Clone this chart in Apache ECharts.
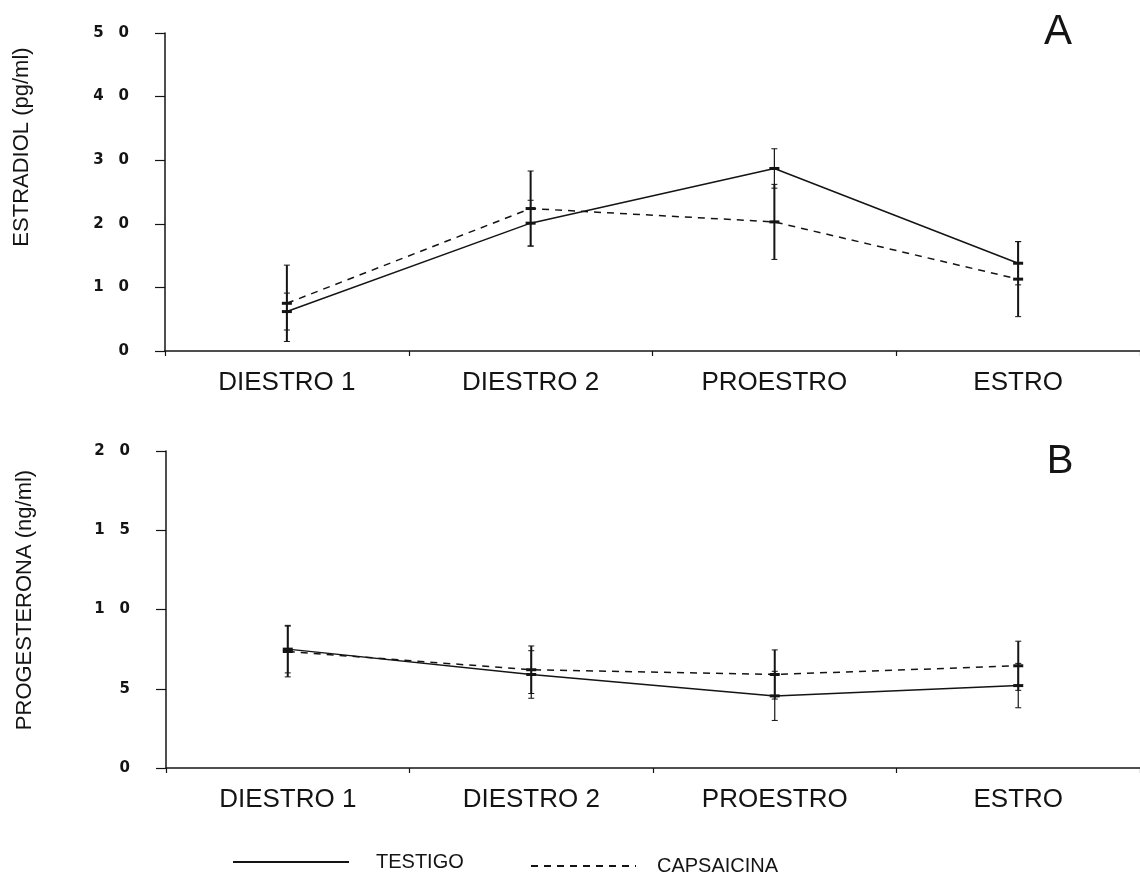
<!DOCTYPE html>
<html>
<head>
<meta charset="utf-8">
<style>
  html, body { margin: 0; padding: 0; background: #ffffff; }
  #chart { width: 1140px; height: 877px; }
</style>
<script src="https://cdn.jsdelivr.net/npm/echarts@6/dist/echarts.min.js"></script>
</head>
<body>
<div id="chart"></div>
<script>
// Phases of the estrous cycle
const categories = ['DIESTRO 1', 'DIESTRO 2', 'PROESTRO', 'ESTRO'];

// Estradiol (pg/ml): mean and standard error per phase
const estradiolTestigo = [6.2, 20.1, 28.7, 13.8];
const estradiolTestigoEE = [2.9, 3.6, 3.1, 3.4];
const estradiolCapsaicina = [7.5, 22.4, 20.3, 11.3];
const estradiolCapsaicinaEE = [6.0, 5.9, 5.9, 5.9];

// Progesterona (ng/ml): mean and standard error per phase
const progesteronaTestigo = [7.5, 5.9, 4.55, 5.2];
const progesteronaTestigoEE = [1.5, 1.5, 1.55, 1.4];
const progesteronaCapsaicina = [7.35, 6.2, 5.9, 6.45];
const progesteronaCapsaicinaEE = [1.6, 1.5, 1.55, 1.55];

// Axis ranges
const estradiolAxis = { min: 0, max: 50, interval: 10 };
const progesteronaAxis = { min: 0, max: 20, interval: 5 };

const INK = '#141414';
const FONT = "'Liberation Sans', Arial, sans-serif";

const chart = echarts.init(document.getElementById('chart'), null, { renderer: 'canvas' });

// Vertical error bar with small caps and a short bar at the mean
function errorBarRenderer(barWidth) {
  return function (params, api) {
    const x = api.value(0);
    const m = api.value(1);
    const e = api.value(2);
    const top = api.coord([x, m + e]);
    const bot = api.coord([x, m - e]);
    const mid = api.coord([x, m]);
    const cap = 3;
    return {
      type: 'group',
      children: [
        { type: 'line', shape: { x1: top[0], y1: top[1], x2: bot[0], y2: bot[1] },
          style: { stroke: INK, lineWidth: barWidth } },
        { type: 'line', shape: { x1: top[0] - cap, y1: top[1], x2: top[0] + cap, y2: top[1] },
          style: { stroke: INK, lineWidth: 1 } },
        { type: 'line', shape: { x1: bot[0] - cap, y1: bot[1], x2: bot[0] + cap, y2: bot[1] },
          style: { stroke: INK, lineWidth: 1 } },
        { type: 'rect', shape: { x: mid[0] - 5, y: mid[1] - 1.5, width: 10, height: 3 },
          style: { fill: INK } }
      ]
    };
  };
}

function withErrors(values, errors) {
  return values.map((v, i) => [i, v, errors[i]]);
}

function xAxisFor(gridIndex) {
  return {
    type: 'category',
    gridIndex: gridIndex,
    data: categories,
    boundaryGap: true,
    axisLine: { lineStyle: { color: INK, width: 1.5 } },
    axisTick: { show: true, length: 5, lineStyle: { color: INK, width: 1.2 } },
    axisLabel: { color: INK, fontFamily: FONT, fontSize: 26, margin: 19 },
    splitLine: { show: false }
  };
}

function yAxisFor(gridIndex, range) {
  return {
    type: 'value',
    gridIndex: gridIndex,
    min: range.min,
    max: range.max,
    interval: range.interval,
    axisLine: { show: true, lineStyle: { color: INK, width: 1.5 } },
    axisTick: { show: true, length: 10, lineStyle: { color: INK, width: 1.2 } },
    axisLabel: {
      color: INK,
      fontFamily: "'DejaVu Sans', sans-serif",
      fontWeight: 'bold',
      fontSize: 15,
      margin: 36,
      formatter: v => String(v).split('').join('\u2003')
    },
    splitLine: { show: false }
  };
}

const solidLine = { color: INK, width: 1.5, type: 'solid' };
const dashedLine = { color: INK, width: 1.5, type: [7, 6] };

const legendCommon = {
  selectedMode: false,
  itemHeight: 14,
  itemStyle: { opacity: 0 },
  textStyle: { color: INK, fontFamily: FONT, fontSize: 20 }
};

chart.setOption({
  animation: false,
  backgroundColor: '#ffffff',
  grid: [
    { left: 165, top: 33, width: 975, height: 318 },
    { left: 166, top: 451, width: 975, height: 317 }
  ],
  xAxis: [xAxisFor(0), xAxisFor(1)],
  yAxis: [yAxisFor(0, estradiolAxis), yAxisFor(1, progesteronaAxis)],
  legend: [
    Object.assign({}, legendCommon, {
      data: ['TESTIGO'],
      left: 227, top: 847,
      itemWidth: 116,
      textStyle: Object.assign({}, legendCommon.textStyle, { padding: [0, 0, 0, 22] })
    }),
    Object.assign({}, legendCommon, {
      data: ['CAPSAICINA'],
      left: 525, top: 851,
      itemWidth: 105,
      textStyle: Object.assign({}, legendCommon.textStyle, { padding: [0, 0, 0, 16] })
    })
  ],
  graphic: [
    { type: 'text', x: 22, y: 147, rotation: Math.PI / 2,
      style: { text: 'ESTRADIOL (pg/ml)', font: '22px ' + FONT, fill: INK,
               textAlign: 'center', textVerticalAlign: 'middle' } },
    { type: 'text', x: 25, y: 600, rotation: Math.PI / 2,
      style: { text: 'PROGESTERONA (ng/ml)', font: '22px ' + FONT, fill: INK,
               textAlign: 'center', textVerticalAlign: 'middle' } },
    { type: 'text', x: 1058, y: 32,
      style: { text: 'A', font: '42px ' + FONT, fill: INK,
               textAlign: 'center', textVerticalAlign: 'middle' } },
    { type: 'text', x: 1060, y: 462,
      style: { text: 'B', font: '40px ' + FONT, fill: INK,
               textAlign: 'center', textVerticalAlign: 'middle' } }
  ],
  series: [
    // Estradiol panel
    { type: 'custom', xAxisIndex: 0, yAxisIndex: 0, z: 3,
      renderItem: errorBarRenderer(1.2), encode: { x: 0, y: 1 },
      data: withErrors(estradiolTestigo, estradiolTestigoEE) },
    { type: 'custom', xAxisIndex: 0, yAxisIndex: 0, z: 3,
      renderItem: errorBarRenderer(2), encode: { x: 0, y: 1 },
      data: withErrors(estradiolCapsaicina, estradiolCapsaicinaEE) },
    { name: 'TESTIGO', type: 'line', xAxisIndex: 0, yAxisIndex: 0, z: 4,
      symbol: 'none', lineStyle: solidLine, itemStyle: { color: INK },
      data: estradiolTestigo },
    { name: 'CAPSAICINA', type: 'line', xAxisIndex: 0, yAxisIndex: 0, z: 4,
      symbol: 'none', lineStyle: dashedLine, itemStyle: { color: INK },
      data: estradiolCapsaicina },

    // Progesterona panel
    { type: 'custom', xAxisIndex: 1, yAxisIndex: 1, z: 3,
      renderItem: errorBarRenderer(1.2), encode: { x: 0, y: 1 },
      data: withErrors(progesteronaTestigo, progesteronaTestigoEE) },
    { type: 'custom', xAxisIndex: 1, yAxisIndex: 1, z: 3,
      renderItem: errorBarRenderer(2), encode: { x: 0, y: 1 },
      data: withErrors(progesteronaCapsaicina, progesteronaCapsaicinaEE) },
    { name: 'TESTIGO', type: 'line', xAxisIndex: 1, yAxisIndex: 1, z: 4,
      symbol: 'none', lineStyle: solidLine, itemStyle: { color: INK },
      data: progesteronaTestigo },
    { name: 'CAPSAICINA', type: 'line', xAxisIndex: 1, yAxisIndex: 1, z: 4,
      symbol: 'none', lineStyle: dashedLine, itemStyle: { color: INK },
      data: progesteronaCapsaicina }
  ]
});
</script>
</body>
</html>
